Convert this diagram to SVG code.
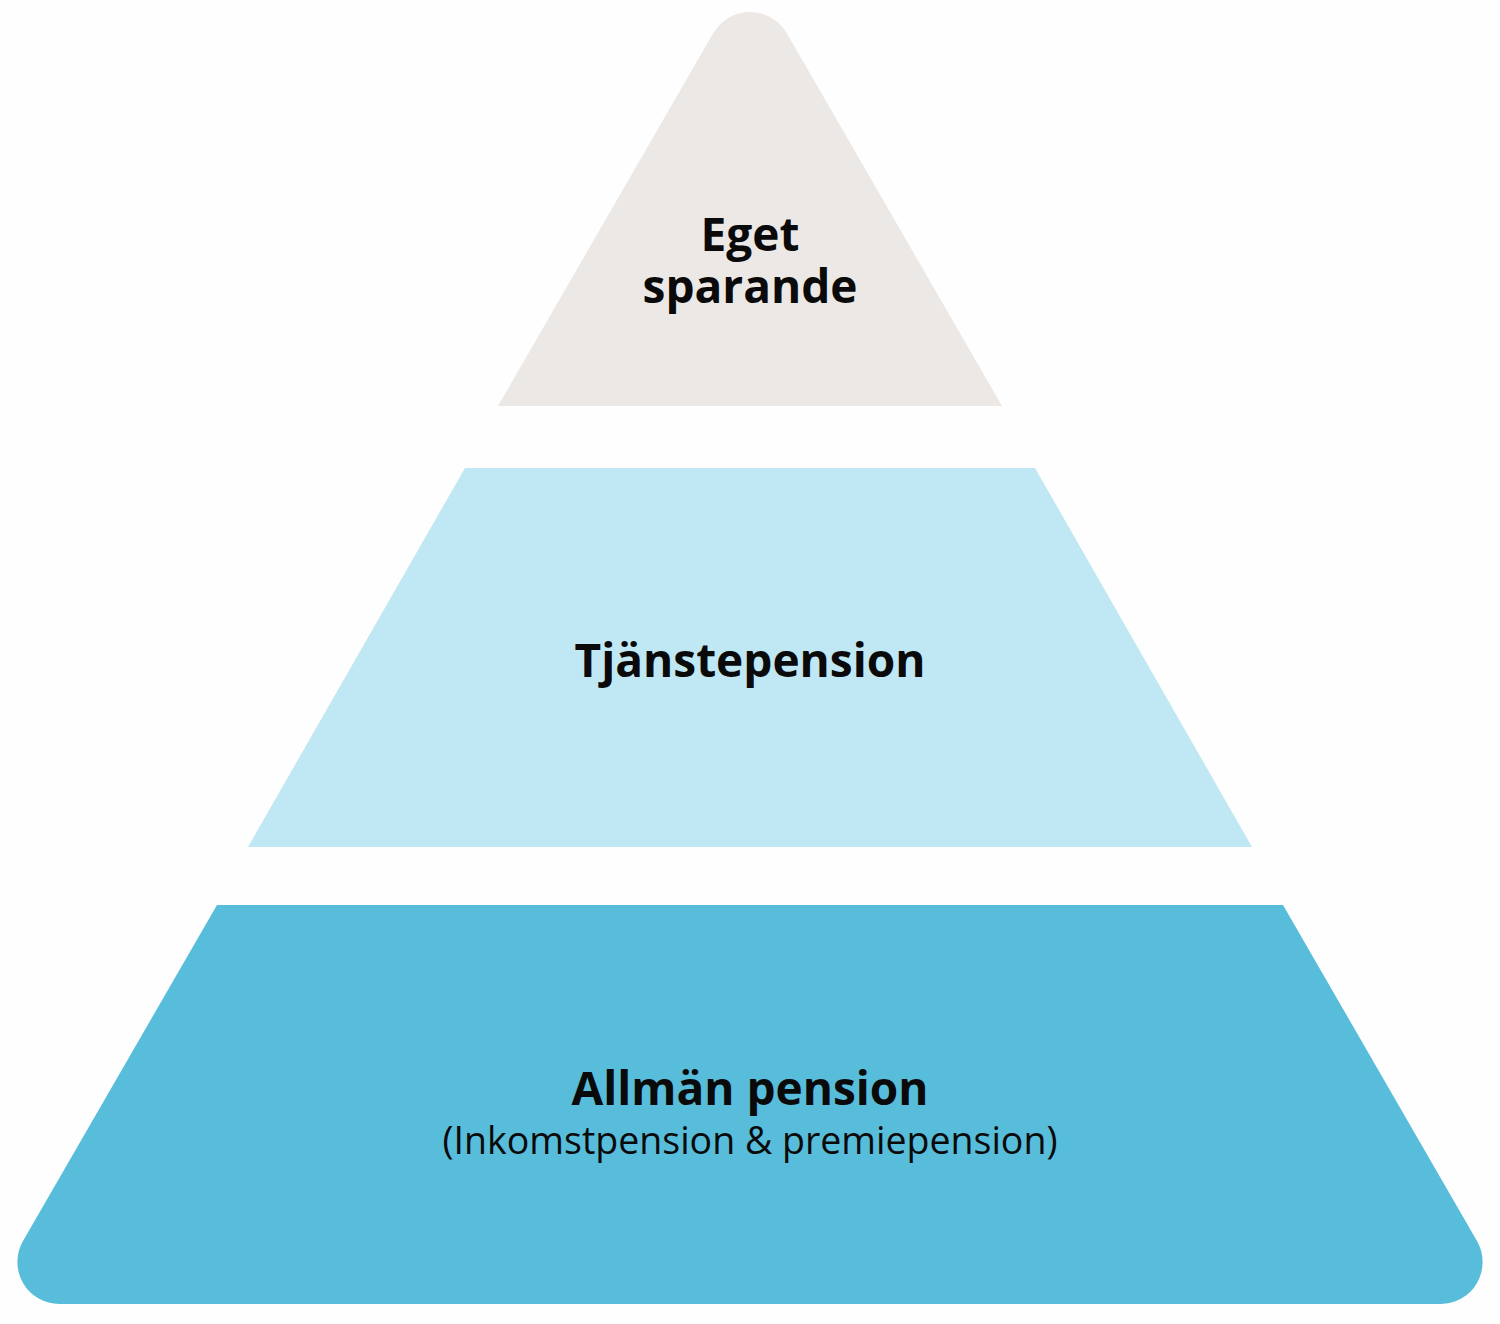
<svg xmlns="http://www.w3.org/2000/svg" width="1500" height="1324" viewBox="0 0 1500 1324">
<style>
.t{font-family:"Open Sans","Liberation Sans",sans-serif;fill:#0a0a0a;text-anchor:middle}
.b{font-weight:700;font-size:46px}
.r{font-weight:400;font-size:37.5px}
</style>
<rect width="1500" height="1324" fill="#fefefe"/>
<g id="eget-sparande">
<path d="M498,406 L713.2,33.2 A42.5,42.5 0 0 1 786.8,33.2 L1002,406 Z" fill="#ebe8e5"/>
<text class="t b" x="750" y="251">Eget</text>
<text class="t b" x="750" y="303">sparande</text>
</g>
<g id="tjanstepension">
<path d="M465,468 L1035,468 L1252,847 L248,847 Z" fill="#c0e7f4"/>
<text class="t b" x="750" y="677">Tjänstepension</text>
</g>
<g id="allman-pension">
<path d="M217,905 L1283,905 L1477,1241 A42,42 0 0 1 1440.7,1304 L59.3,1304 A42,42 0 0 1 23,1241 Z" fill="#57bdda"/>
<text class="t b" x="750" y="1105">Allmän pension</text>
<text class="t r" x="750" y="1154">(Inkomstpension &amp; premiepension)</text>
</g>
</svg>
